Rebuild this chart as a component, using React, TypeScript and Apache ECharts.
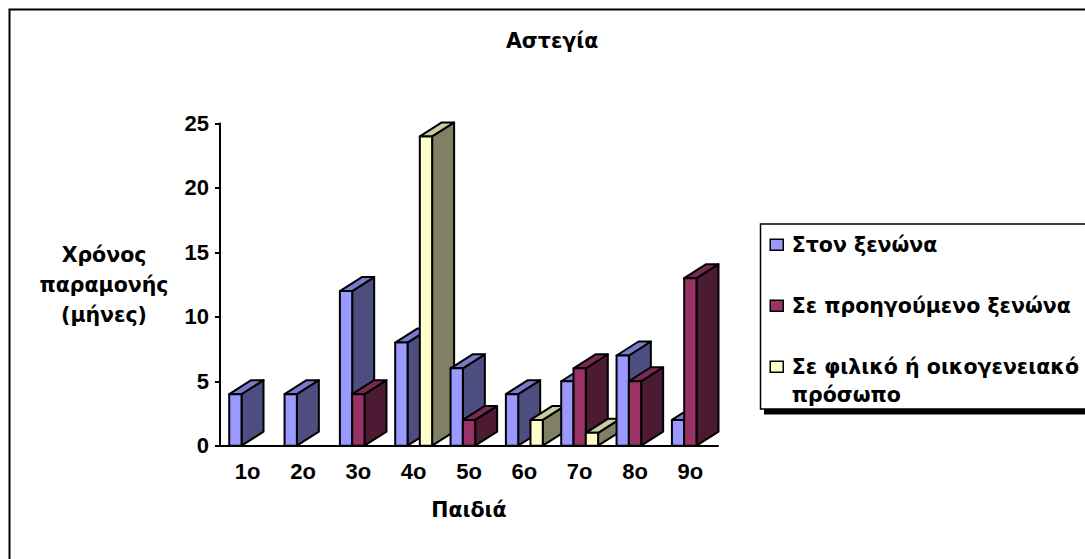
import React, { useEffect, useRef } from "react";
import * as echarts from "echarts";

const categories = ["1ο", "2ο", "3ο", "4ο", "5ο", "6ο", "7ο", "8ο", "9ο"];
const inShelter = [4, 4, 12, 8, 6, 4, 5, 7, 2];
const previousShelter = [0, 0, 4, 0, 2, 0, 6, 5, 13];
const friendFamily = [0, 0, 0, 24, 0, 2, 1, 0, 0];
const seriesNames = ["Στον ξενώνα", "Σε προηγούμενο ξενώνα", "Σε φιλικό ή οικογενειακό\nπρόσωπο"];
const yTicks = { min: 0, max: 25, interval: 5 };

const FONT = "'Liberation Sans', Arial, sans-serif";
const WIDE = "'DejaVu Sans', Verdana, sans-serif";
const palette = [
  { front: "#9999FF", top: "#7A7ACC", side: "#4D4D80" },
  { front: "#993366", top: "#7A2952", side: "#4D1A33" },
  { front: "#FFFFCC", top: "#CCCCA3", side: "#808066" },
];
const DEPTH_X = 22;
const DEPTH_Y = 14;
const STROKE = 2;

function bar3d(seriesIndex: number) {
  return (_params: any, api: any) => {
    const cat = api.value(0);
    const val = api.value(1);
    if (!val) return null;
    const band = api.size([1, 0])[0];
    const w = band / 4.5;
    const [cx, yTop] = api.coord([cat, val]);
    const [, yBase] = api.coord([cat, 0]);
    const x0 = cx - 1.5 * w + seriesIndex * w;
    const x1 = x0 + w;
    const c = palette[seriesIndex];
    const z2 = cat * 3 + seriesIndex;
    const poly = (points: number[][], fill: string) => ({
      type: "polygon",
      z2,
      shape: { points },
      style: { fill, stroke: "#000", lineWidth: STROKE, lineJoin: "round" },
    });
    return {
      type: "group",
      children: [
        poly([[x1, yBase], [x1 + DEPTH_X, yBase - DEPTH_Y], [x1 + DEPTH_X, yTop - DEPTH_Y], [x1, yTop]], c.side),
        poly([[x0, yTop], [x1, yTop], [x1 + DEPTH_X, yTop - DEPTH_Y], [x0 + DEPTH_X, yTop - DEPTH_Y]], c.top),
        poly([[x0, yBase], [x1, yBase], [x1, yTop], [x0, yTop]], c.front),
      ],
    };
  };
}

export default function App() {
  const ref = useRef<HTMLDivElement>(null);
  useEffect(() => {
    document.body.style.margin = "0";
    const chart = echarts.init(ref.current!, null, { renderer: "svg" });
    const seriesData = [inShelter, previousShelter, friendFamily];
    const labelStyle = { fontFamily: FONT, fontWeight: "bold" as const, color: "#000" };
    const wideStyle = { fontFamily: WIDE, fontWeight: "bold" as const, color: "#000", fontSize: 20.5 };
    chart.setOption({
      animation: false,
      backgroundColor: "#fff",
      title: {
        text: "Αστεγία",
        left: 506,
        top: 30,
        padding: 0,
        textStyle: wideStyle,
      },
      grid: { left: 220, top: 123.5, width: 498, height: 322.2 },
      xAxis: {
        type: "category",
        data: categories,
        name: "Παιδιά",
        nameLocation: "middle",
        nameGap: 54,
        nameTextStyle: wideStyle,
        axisLine: { lineStyle: { color: "#000", width: 2 } },
        axisTick: { length: 5, lineStyle: { color: "#000", width: 2 } },
        axisLabel: { ...labelStyle, fontSize: 22, margin: 15, interval: 0 },
      },
      yAxis: {
        type: "value",
        min: yTicks.min,
        max: yTicks.max,
        interval: yTicks.interval,
        name: "Χρόνος\nπαραμονής\n(μήνες)",
        nameLocation: "middle",
        nameRotate: 0,
        nameGap: 116,
        nameTextStyle: { ...wideStyle, lineHeight: 30, align: "center" },
        axisLine: { show: true, lineStyle: { color: "#000", width: 2 } },
        axisTick: { show: true, length: 5, lineStyle: { color: "#000", width: 2 } },
        axisLabel: { ...labelStyle, fontSize: 22, margin: 11 },
        splitLine: { show: false },
      },
      legend: {
        orient: "vertical",
        left: 769.5,
        top: 202.7,
        padding: 0,
        itemWidth: 13,
        itemHeight: 11,
        itemGap: -23,
        align: "left",
        textStyle: { ...wideStyle, lineHeight: 28, padding: [0, 0, 0, 3.5] },
        selectedMode: false,
        // blank lines keep the icon on the first text line of every entry
        formatter: (name: string) => (name.includes("\n") ? `\n${name}` : `\n${name}\n`),
        data: seriesNames.map((name, i) => ({
          name,
          icon: "rect",
          itemStyle: { color: palette[i].front, borderColor: "#000", borderWidth: 1.5 },
        })),
      },
      series: seriesData.map((vals, i) => ({
        type: "custom",
        name: seriesNames[i],
        coordinateSystem: "cartesian2d",
        renderItem: bar3d(i),
        encode: { x: 0, y: 1 },
        itemStyle: { color: palette[i].front },
        data: vals.map((v, c) => [c, v]),
      })),
      graphic: [
        {
          type: "rect",
          silent: true,
          z: -10,
          shape: { x: 9.5, y: 9.5, width: 1200, height: 700 },
          style: { fill: "#fff", stroke: "#000", lineWidth: 2 },
        },
        {
          type: "rect",
          silent: true,
          z: -9,
          shape: { x: 764, y: 229, width: 400, height: 185.5 },
          style: { fill: "#000" },
        },
        {
          type: "rect",
          silent: true,
          z: -8,
          shape: { x: 760.5, y: 224, width: 400, height: 185 },
          style: { fill: "#fff", stroke: "#000", lineWidth: 1.5 },
        },
      ],
    });
    return () => chart.dispose();
  }, []);
  return <div ref={ref} style={{ position: "absolute", left: 0, top: 0, width: 1085, height: 559, overflow: "hidden" }} />;
}
